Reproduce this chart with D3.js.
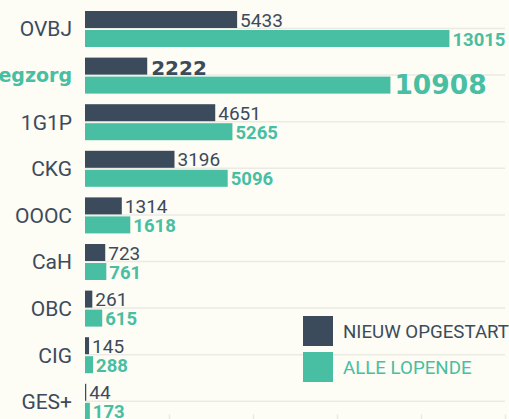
<!DOCTYPE html>
<html>
<head>
<meta charset="utf-8">
<script src="https://cdn.jsdelivr.net/npm/d3@7"></script>
<style>
	html, body { margin: 0; padding: 0; background: #fdfcf5; overflow: hidden; }
	svg { display: block; font-family: Roboto, "Noto Sans", sans-serif; }
</style>
</head>
<body>
<svg id="chart"></svg>
<script>
// chart data
const categories = ['OVBJ', 'Pleegzorg', '1G1P', 'CKG', 'OOOC', 'CaH', 'OBC', 'CIG', 'GES+'];
const nieuwValues = [5433, 2222, 4651, 3196, 1314, 723, 261, 145, 44];
const lopendValues = [13015, 10908, 5265, 5096, 1618, 761, 615, 288, 173];
const seriesKeys = ['nieuw', 'lopend'];
const seriesLabels = ['NIEUW OPGESTART', 'ALLE LOPENDE'];
const xTickValues = [0, 3000, 6000, 9000, 12000, 15000];
const highlighted = 'Pleegzorg';

class GroupedBarChart {

	/**
	* constructor function
	* @param {string} chartSelector The selector for the svg-element
	* @param {object} options
	* @returns {undefined}
	*/
	constructor(chartSelector, options) {
		let defaults = {
			width: 509,
			height: 419,
			margin: { top: 11, left: 85, right: 4 },
			groupStep: 46.6,
			barGroupSize: 36,
			colors: { nieuw: '#3c4b5b', lopend: '#48bea2' },
			gridColor: '#ebeae3',
			wideBold: '"DejaVu Sans", Roboto, sans-serif'
		};
		this.settings = Object.assign({}, defaults, options);

		this.dataset = categories.map((cat, i) => {
			return { category: cat, nieuw: nieuwValues[i], lopend: lopendValues[i] };
		});

		this.chart = d3.select(chartSelector)
			.attr('width', this.settings.width)
			.attr('height', this.settings.height);

		this.createChart();
	}


	/**
	* create scales for values, categories and series
	* @returns {undefined}
	*/
	_createScales() {
		let s = this.settings;

		this.xScale = d3.scaleLinear()
			.domain([0, 15000])
			.range([s.margin.left, s.width - s.margin.right]);

		this.yScale = d3.scaleBand()
			.domain(categories)
			.range([s.margin.top, s.margin.top + categories.length * s.groupStep])
			.padding(0);

		// two bars of 17px with a 2px gap
		this.seriesScale = d3.scaleBand()
			.domain(seriesKeys)
			.range([0, s.barGroupSize])
			.paddingInner(2 / 19);
	};


	/**
	* horizontal grid lines between the bars of a group, and ticks at the bottom
	* @returns {undefined}
	*/
	_createGrid() {
		let s = this.settings,
			x = this.xScale,
			y = this.yScale,
			bw = this.seriesScale.bandwidth();

		this.chart.append('g')
			.attr('class', 'grid')
			.selectAll('line')
			.data(categories)
			.enter()
			.append('line')
			.attr('x1', x.range()[0])
			.attr('x2', x.range()[1])
			.attr('y1', (d) => y(d) + bw + 0.5)
			.attr('y2', (d) => y(d) + bw + 0.5)
			.attr('stroke', s.gridColor)
			.attr('stroke-width', 1.5);

		let axis = d3.axisBottom(x)
			.tickValues(xTickValues)
			.tickSize(10)
			.tickFormat('');

		let axisG = this.chart.append('g')
			.attr('class', 'axis axis--x')
			.attr('transform', 'translate(0,' + (s.margin.top + categories.length * s.groupStep - 16) + ')')
			.call(axis);

		axisG.select('.domain').remove();
		axisG.selectAll('line').attr('stroke', s.gridColor).attr('stroke-width', 1.5);
	};


	/**
	* add the bars and their value labels
	* @returns {undefined}
	*/
	_addBars() {
		let s = this.settings,
			x = this.xScale,
			y = this.yScale,
			sy = this.seriesScale,
			bw = sy.bandwidth();

		let groups = this.chart.append('g')
			.selectAll('.group')
			.data(this.dataset)
			.enter()
			.append('g')
			.attr('class', 'group')
			.attr('transform', (d) => 'translate(0,' + y(d.category) + ')');

		seriesKeys.forEach((key) => {
			groups.append('rect')
				.attr('x', x(0))
				.attr('y', sy(key))
				.attr('height', bw)
				.attr('width', (d) => x(d[key]) - x(0))
				.attr('fill', s.colors[key]);

			groups.append('text')
				.attr('x', (d) => x(d[key]) + (d.category === highlighted ? 4 : 3))
				.attr('y', (d) => sy(key) + bw - (d.category === highlighted ? 0 : 1.5))
				.attr('fill', s.colors[key])
				.style('font-family', (d) => d.category === highlighted ? s.wideBold : null)
				.style('font-weight', (d) => (key === 'lopend' || d.category === highlighted) ? 700 : 400)
				.style('font-size', (d) => {
					if (d.category === highlighted) {
						return key === 'lopend' ? '26.5px' : '20px';
					}
					return key === 'lopend' ? '18.5px' : '19px';
				})
				.text((d) => d[key]);
		});

		// category labels
		groups.append('text')
			.attr('x', s.margin.left - 13)
			.attr('y', s.barGroupSize / 2)
			.attr('dy', '0.35em')
			.style('text-anchor', 'end')
			.style('font-family', (d) => d.category === highlighted ? s.wideBold : null)
			.style('font-size', (d) => d.category === highlighted ? '19px' : '21px')
			.style('font-weight', (d) => d.category === highlighted ? 700 : 400)
			.attr('fill', (d) => d.category === highlighted ? s.colors.lopend : s.colors.nieuw)
			.text((d) => d.category);
	};


	/**
	* legend at the bottom right
	* @returns {undefined}
	*/
	_addLegend() {
		let s = this.settings;

		let items = this.chart.append('g')
			.attr('class', 'legend')
			.attr('transform', 'translate(303,316)')
			.selectAll('g')
			.data(seriesKeys)
			.enter()
			.append('g')
			.attr('transform', (d, i) => 'translate(0,' + (i * 36) + ')');

		items.append('rect')
			.attr('width', 30)
			.attr('height', 30)
			.attr('fill', (d) => s.colors[d]);

		items.append('text')
			.attr('x', 40)
			.attr('y', 22)
			.style('font-size', '18.7px')
			.attr('fill', (d) => s.colors[d])
			.text((d, i) => seriesLabels[i]);
	};


	/**
	* create the chart
	* @returns {undefined}
	*/
	createChart() {
		this._createScales();
		this._createGrid();
		this._addBars();
		this._addLegend();
	};

}

new GroupedBarChart('#chart');
</script>
</body>
</html>
